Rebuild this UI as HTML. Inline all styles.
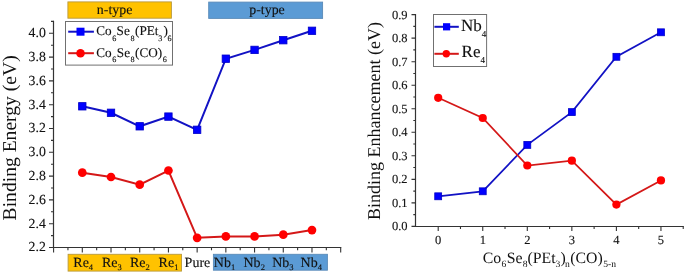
<!DOCTYPE html>
<html><head><meta charset="utf-8"><style>
html,body{margin:0;padding:0;background:#fff;}
svg{display:block;will-change:transform;text-rendering:geometricPrecision;}
text{font-family:"Liberation Serif",serif;fill:#111;stroke:#111;stroke-width:0.12px;}
.big{stroke-width:0;}
</style></head><body>
<svg width="685" height="273" viewBox="0 0 685 273">
<rect x="67.9" y="1.9" width="103.5" height="16.3" fill="#ffc200" stroke="#b8993c" stroke-width="0.9"/>
<text x="114.6" y="14.1" font-size="13.9" text-anchor="middle">n-type</text>
<rect x="208.7" y="2.1" width="113.9" height="16.3" fill="#5b9bd5" stroke="#5a8ab8" stroke-width="0.9"/>
<text x="267" y="14.2" font-size="13.9" text-anchor="middle">p-type</text>
<rect x="68.1" y="254.3" width="113.4" height="16.8" fill="#ffc200" stroke="#b8993c" stroke-width="0.9"/>
<rect x="213.4" y="254.3" width="114" height="15.9" fill="#5b9bd5" stroke="#5a8ab8" stroke-width="0.9"/>
<path d="M53.5,21.40 V247.5 H340.69" fill="none" stroke="#333" stroke-width="1.2" stroke-linecap="square"/>
<text x="45.8" y="251.30" font-size="13.8" text-anchor="end">2.2</text>
<text x="45.8" y="227.50" font-size="13.8" text-anchor="end">2.4</text>
<text x="45.8" y="203.70" font-size="13.8" text-anchor="end">2.6</text>
<text x="45.8" y="179.90" font-size="13.8" text-anchor="end">2.8</text>
<text x="45.8" y="156.10" font-size="13.8" text-anchor="end">3.0</text>
<text x="45.8" y="132.30" font-size="13.8" text-anchor="end">3.2</text>
<text x="45.8" y="108.50" font-size="13.8" text-anchor="end">3.4</text>
<text x="45.8" y="84.70" font-size="13.8" text-anchor="end">3.6</text>
<text x="45.8" y="60.90" font-size="13.8" text-anchor="end">3.8</text>
<text x="45.8" y="37.10" font-size="13.8" text-anchor="end">4.0</text>
<path d="M49.0,247.50H53.5M49.0,223.70H53.5M49.0,199.90H53.5M49.0,176.10H53.5M49.0,152.30H53.5M49.0,128.50H53.5M49.0,104.70H53.5M49.0,80.90H53.5M49.0,57.10H53.5M49.0,33.30H53.5M51.0,235.60H53.5M51.0,211.80H53.5M51.0,188.00H53.5M51.0,164.20H53.5M51.0,140.40H53.5M51.0,116.60H53.5M51.0,92.80H53.5M51.0,69.00H53.5M51.0,45.20H53.5M51.0,21.40H53.5M53.59,247.5V252.5M67.94,247.5V250.3M82.30,247.5V252.5M96.66,247.5V250.3M111.01,247.5V252.5M125.36,247.5V250.3M139.72,247.5V252.5M154.07,247.5V250.3M168.43,247.5V252.5M182.78,247.5V250.3M197.14,247.5V252.5M211.50,247.5V250.3M225.85,247.5V252.5M240.20,247.5V250.3M254.56,247.5V252.5M268.92,247.5V250.3M283.27,247.5V252.5M297.62,247.5V250.3M311.98,247.5V252.5M326.33,247.5V250.3M340.69,247.5V252.5" fill="none" stroke="#333" stroke-width="1.1"/>
<text x="73.3" y="266.5" font-size="14">Re<tspan font-size="8.5" dy="3">4</tspan></text>
<text x="101.9" y="266.5" font-size="14">Re<tspan font-size="8.5" dy="3">3</tspan></text>
<text x="129.9" y="266.5" font-size="14">Re<tspan font-size="8.5" dy="3">2</tspan></text>
<text x="158.6" y="266.5" font-size="14">Re<tspan font-size="8.5" dy="3">1</tspan></text>
<text x="184.6" y="266.5" font-size="14">Pure</text>
<text x="213.8" y="266.5" font-size="14">Nb<tspan font-size="8.5" dy="3">1</tspan></text>
<text x="243.5" y="266.5" font-size="14">Nb<tspan font-size="8.5" dy="3">2</tspan></text>
<text x="272.2" y="266.5" font-size="14">Nb<tspan font-size="8.5" dy="3">3</tspan></text>
<text x="300.6" y="266.5" font-size="14">Nb<tspan font-size="8.5" dy="3">4</tspan></text>
<text class="big" transform="translate(15.8,220.4) rotate(-90)" font-size="19.6">Binding Energy (eV)</text>
<polyline points="82.30,106.3 111.01,112.8 139.72,126.3 168.43,116.6 197.14,129.8 225.85,58.7 254.56,49.9 283.27,40.2 311.98,30.8" fill="none" stroke="#1212c4" stroke-width="2"/>
<polyline points="82.30,172.7 111.01,177.0 139.72,184.7 168.43,170.5 197.14,237.8 225.85,236.4 254.56,236.4 283.27,234.7 311.98,230.1" fill="none" stroke="#d41818" stroke-width="2"/>
<rect x="78.60" y="102.60" width="7.4" height="7.4" fill="#0000ff" stroke="#0000c8" stroke-width="0.8"/>
<rect x="107.31" y="109.10" width="7.4" height="7.4" fill="#0000ff" stroke="#0000c8" stroke-width="0.8"/>
<rect x="136.02" y="122.60" width="7.4" height="7.4" fill="#0000ff" stroke="#0000c8" stroke-width="0.8"/>
<rect x="164.73" y="112.90" width="7.4" height="7.4" fill="#0000ff" stroke="#0000c8" stroke-width="0.8"/>
<rect x="193.44" y="126.10" width="7.4" height="7.4" fill="#0000ff" stroke="#0000c8" stroke-width="0.8"/>
<rect x="222.15" y="55.00" width="7.4" height="7.4" fill="#0000ff" stroke="#0000c8" stroke-width="0.8"/>
<rect x="250.86" y="46.20" width="7.4" height="7.4" fill="#0000ff" stroke="#0000c8" stroke-width="0.8"/>
<rect x="279.57" y="36.50" width="7.4" height="7.4" fill="#0000ff" stroke="#0000c8" stroke-width="0.8"/>
<rect x="308.28" y="27.10" width="7.4" height="7.4" fill="#0000ff" stroke="#0000c8" stroke-width="0.8"/>
<circle cx="82.30" cy="172.7" r="4.35" fill="#ff0000"/>
<circle cx="111.01" cy="177.0" r="4.35" fill="#ff0000"/>
<circle cx="139.72" cy="184.7" r="4.35" fill="#ff0000"/>
<circle cx="168.43" cy="170.5" r="4.35" fill="#ff0000"/>
<circle cx="197.14" cy="237.8" r="4.35" fill="#ff0000"/>
<circle cx="225.85" cy="236.4" r="4.35" fill="#ff0000"/>
<circle cx="254.56" cy="236.4" r="4.35" fill="#ff0000"/>
<circle cx="283.27" cy="234.7" r="4.35" fill="#ff0000"/>
<circle cx="311.98" cy="230.1" r="4.35" fill="#ff0000"/>
<rect x="65.5" y="21.5" width="107" height="43.6" fill="#fff" stroke="#707070" stroke-width="1"/>
<line x1="68.2" y1="31.7" x2="93.9" y2="31.7" stroke="#1212c4" stroke-width="2"/>
<rect x="76.5" y="27.7" width="8" height="8" fill="#0000ff"/>
<line x1="68.2" y1="53.2" x2="93.9" y2="53.2" stroke="#d41818" stroke-width="2"/>
<circle cx="80.5" cy="53.2" r="4.3" fill="#ff0000"/>
<text y="35.4" font-size="13.2"><tspan x="96.3" y="35.4">Co</tspan><tspan x="112.3" y="40.699999999999996" font-size="8.2">6</tspan><tspan x="116.6" y="35.4">Se</tspan><tspan x="130.5" y="40.699999999999996" font-size="8.2">8</tspan><tspan x="135.0" y="35.4">(PEt</tspan><tspan x="158.2" y="40.699999999999996" font-size="8.2">3</tspan><tspan x="163.4" y="35.4">)</tspan><tspan x="167.5" y="40.699999999999996" font-size="8.2">6</tspan></text>
<text y="56.9" font-size="13.2"><tspan x="96.3" y="56.9">Co</tspan><tspan x="112.3" y="62.4" font-size="8.2">6</tspan><tspan x="116.8" y="56.9">Se</tspan><tspan x="130.5" y="62.4" font-size="8.2">8</tspan><tspan x="135.0" y="56.9">(CO)</tspan><tspan x="162.7" y="62.4" font-size="8.2">6</tspan></text>
<path d="M415.5,14.63 V226.5 H683.22" fill="none" stroke="#333" stroke-width="1.2" stroke-linecap="square"/>
<text x="407.6" y="230.40" font-size="12.5" text-anchor="end">0.0</text>
<text x="407.6" y="206.87" font-size="12.5" text-anchor="end">0.1</text>
<text x="407.6" y="183.34" font-size="12.5" text-anchor="end">0.2</text>
<text x="407.6" y="159.81" font-size="12.5" text-anchor="end">0.3</text>
<text x="407.6" y="136.28" font-size="12.5" text-anchor="end">0.4</text>
<text x="407.6" y="112.75" font-size="12.5" text-anchor="end">0.5</text>
<text x="407.6" y="89.22" font-size="12.5" text-anchor="end">0.6</text>
<text x="407.6" y="65.69" font-size="12.5" text-anchor="end">0.7</text>
<text x="407.6" y="42.16" font-size="12.5" text-anchor="end">0.8</text>
<text x="407.6" y="18.63" font-size="12.5" text-anchor="end">0.9</text>
<text x="438.20" y="243.5" font-size="12.5" text-anchor="middle">0</text>
<text x="482.75" y="243.5" font-size="12.5" text-anchor="middle">1</text>
<text x="527.30" y="243.5" font-size="12.5" text-anchor="middle">2</text>
<text x="571.85" y="243.5" font-size="12.5" text-anchor="middle">3</text>
<text x="616.40" y="243.5" font-size="12.5" text-anchor="middle">4</text>
<text x="660.95" y="243.5" font-size="12.5" text-anchor="middle">5</text>
<path d="M411.5,226.40H415.5M411.5,202.87H415.5M411.5,179.34H415.5M411.5,155.81H415.5M411.5,132.28H415.5M411.5,108.75H415.5M411.5,85.22H415.5M411.5,61.69H415.5M411.5,38.16H415.5M411.5,14.63H415.5M413.3,214.63H415.5M413.3,191.10H415.5M413.3,167.57H415.5M413.3,144.04H415.5M413.3,120.52H415.5M413.3,96.98H415.5M413.3,73.45H415.5M413.3,49.92H415.5M413.3,26.39H415.5M438.20,226.5V231.0M482.75,226.5V231.0M527.30,226.5V231.0M571.85,226.5V231.0M616.40,226.5V231.0M660.95,226.5V231.0M460.47,226.5V229.0M505.02,226.5V229.0M549.58,226.5V229.0M594.12,226.5V229.0M638.67,226.5V229.0M683.22,226.5V229.0" fill="none" stroke="#333" stroke-width="1.1"/>
<text class="big" transform="translate(380.3,220) rotate(-90)" font-size="18">Binding Enhancement (eV)</text>
<text class="big" y="262.5" font-size="15.8"><tspan x="482.7" y="262.5">Co</tspan><tspan x="501.6" y="267.4" font-size="9.6">6</tspan><tspan x="506.8" y="262.5">Se</tspan><tspan x="522.7" y="267.4" font-size="9.6">8</tspan><tspan x="527.5" y="262.5">(PEt</tspan><tspan x="555.4" y="267.4" font-size="9.6">3</tspan><tspan x="560.5" y="262.5">)</tspan><tspan x="564.9" y="267.4" font-size="9.6">n</tspan><tspan x="570.3" y="262.5">(CO)</tspan><tspan x="603.3" y="267.4" font-size="9.6">5-n</tspan></text>
<polyline points="438.20,196.3 482.75,191.3 527.30,144.9 571.85,112.1 616.40,56.8 660.95,32.3" fill="none" stroke="#1212c4" stroke-width="1.75"/>
<polyline points="438.20,97.8 482.75,118.0 527.30,165.5 571.85,160.7 616.40,204.6 660.95,180.4" fill="none" stroke="#d41818" stroke-width="1.75"/>
<rect x="434.75" y="192.85" width="6.9" height="6.9" fill="#0000ff" stroke="#0000c8" stroke-width="0.8"/>
<rect x="479.30" y="187.85" width="6.9" height="6.9" fill="#0000ff" stroke="#0000c8" stroke-width="0.8"/>
<rect x="523.85" y="141.45" width="6.9" height="6.9" fill="#0000ff" stroke="#0000c8" stroke-width="0.8"/>
<rect x="568.40" y="108.65" width="6.9" height="6.9" fill="#0000ff" stroke="#0000c8" stroke-width="0.8"/>
<rect x="612.95" y="53.35" width="6.9" height="6.9" fill="#0000ff" stroke="#0000c8" stroke-width="0.8"/>
<rect x="657.50" y="28.85" width="6.9" height="6.9" fill="#0000ff" stroke="#0000c8" stroke-width="0.8"/>
<circle cx="438.20" cy="97.8" r="4.1" fill="#ff0000"/>
<circle cx="482.75" cy="118.0" r="4.1" fill="#ff0000"/>
<circle cx="527.30" cy="165.5" r="4.1" fill="#ff0000"/>
<circle cx="571.85" cy="160.7" r="4.1" fill="#ff0000"/>
<circle cx="616.40" cy="204.6" r="4.1" fill="#ff0000"/>
<circle cx="660.95" cy="180.4" r="4.1" fill="#ff0000"/>
<rect x="433.5" y="14.5" width="53.1" height="52" fill="#fff" stroke="#707070" stroke-width="1"/>
<line x1="434.4" y1="26.8" x2="458.8" y2="26.8" stroke="#1212c4" stroke-width="2"/>
<rect x="443" y="23.2" width="7.2" height="7.2" fill="#0000ff"/>
<line x1="434.4" y1="53.8" x2="458.8" y2="53.8" stroke="#d41818" stroke-width="2"/>
<circle cx="446.3" cy="53.8" r="3.7" fill="#ff0000"/>
<text x="460.9" y="30.6" font-size="17" text-anchor="start"><tspan>Nb</tspan><tspan font-size="9" dy="6.0">4</tspan></text>
<text x="461.6" y="57.2" font-size="17" text-anchor="start"><tspan>Re</tspan><tspan font-size="9" dy="6.2">4</tspan></text>
</svg></body></html>
